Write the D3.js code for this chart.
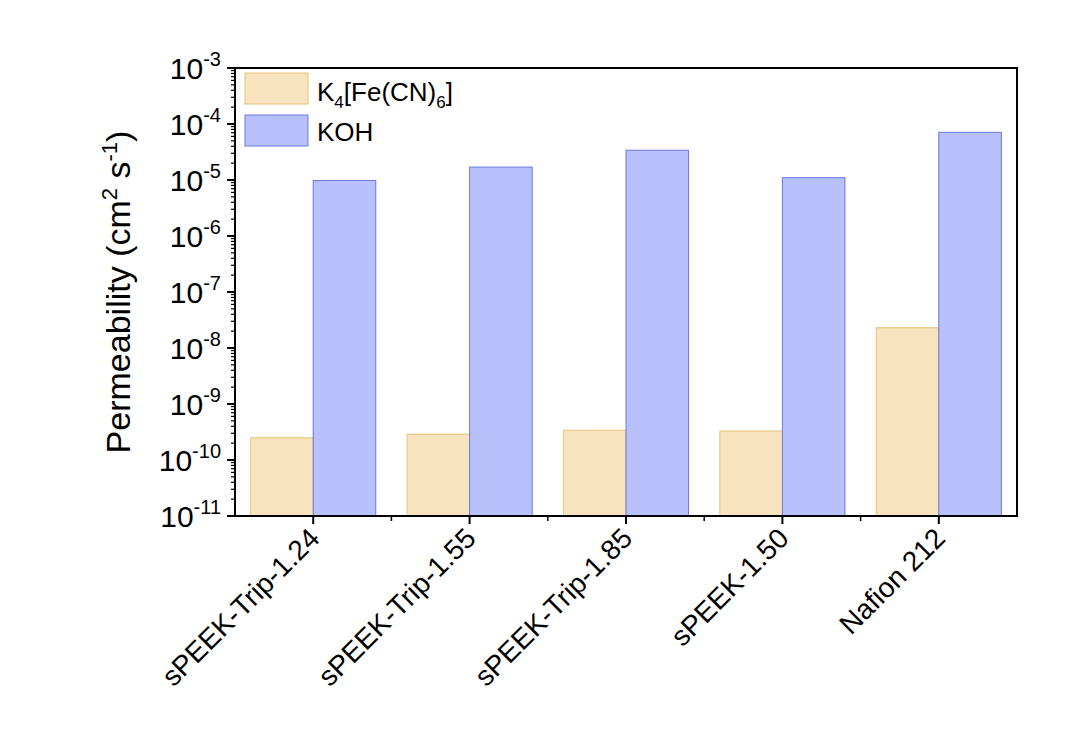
<!DOCTYPE html><html><head><meta charset="utf-8"><script src="https://cdn.jsdelivr.net/npm/d3@7"></script>
<style>body{margin:0;background:#fff}text{font-family:"Liberation Sans",Arial,sans-serif;fill:#000}</style></head><body>
<svg id="c" width="1089" height="731"></svg>
<script>
const categories=["sPEEK-Trip-1.24","sPEEK-Trip-1.55","sPEEK-Trip-1.85","sPEEK-1.50","Nafion 212"];
const k4Values=[2.5e-10,2.9e-10,3.4e-10,3.3e-10,2.3e-8];
const kohValues=[9.8e-6,1.7e-5,3.4e-5,1.1e-5,7.1e-5];
const yExponents=[-11,-10,-9,-8,-7,-6,-5,-4,-3];
const seriesNames=["K4","KOH"];
const colors={K4:{fill:"#f7e4bf",stroke:"#e8c27a"},KOH:{fill:"#b8c1fb",stroke:"#6a78e0"}};
const svg=d3.select("#c");
const L=235,R=1017,T=68,B=516;
const x=d3.scaleBand().domain(categories).range([L,R]).paddingInner(0).paddingOuter(0);
const y=d3.scaleLog().domain([1e-11,1e-3]).range([B,T]);
const bw=x.bandwidth()*0.4;
const g=svg.append("g");
categories.forEach((c,i)=>{
  const cx=x(c)+x.bandwidth()/2;
  [[k4Values[i],"K4",cx-bw],[kohValues[i],"KOH",cx]].forEach(([v,s,x0])=>{
    g.append("rect").attr("x",x0).attr("width",bw).attr("y",y(v)).attr("height",B-y(v))
     .attr("fill",colors[s].fill).attr("stroke",colors[s].stroke).attr("stroke-width",1);
  });
});
svg.append("rect").attr("x",L).attr("y",T).attr("width",R-L).attr("height",B-T).attr("fill","none").attr("stroke","#000").attr("stroke-width",2);
yExponents.forEach(e=>{
  const yy=y(Math.pow(10,e));
  svg.append("line").attr("x1",L-8).attr("x2",L).attr("y1",yy).attr("y2",yy).attr("stroke","#000").attr("stroke-width",2);
  const t=svg.append("text").attr("x",L-14).attr("y",yy+11).attr("text-anchor","end").attr("font-size",30);
  t.append("tspan").text("10");
  t.append("tspan").attr("dy",-13).attr("font-size",20).text(e);
  if(e<-3) for(let m=2;m<10;m++){const ym=y(m*Math.pow(10,e));
    svg.append("line").attr("x1",L-4).attr("x2",L).attr("y1",ym).attr("y2",ym).attr("stroke","#000").attr("stroke-width",1.2);}
});
categories.forEach((c,i)=>{
  const cx=x(c)+x.bandwidth()/2;
  svg.append("line").attr("x1",cx).attr("x2",cx).attr("y1",B).attr("y2",B+8).attr("stroke","#000").attr("stroke-width",2);
  if(i<categories.length-1) svg.append("line").attr("x1",x(c)+x.bandwidth()).attr("x2",x(c)+x.bandwidth()).attr("y1",B).attr("y2",B+5).attr("stroke","#000").attr("stroke-width",1.5);
  svg.append("text").attr("transform",`translate(${cx+8},${B+24}) rotate(-45)`).attr("text-anchor","end").attr("font-size",28).text(c);
});
const yt=svg.append("text").attr("transform","translate(130,292) rotate(-90)").attr("text-anchor","middle").attr("font-size",34);
yt.append("tspan").text("Permeability (cm");
yt.append("tspan").attr("dy",-13).attr("font-size",22).text("2");
yt.append("tspan").attr("dy",13).text(" s");
yt.append("tspan").attr("dy",-13).attr("font-size",22).text("-1");
yt.append("tspan").attr("dy",13).text(")");
[["K4",73],["KOH",115]].forEach(([s,ly])=>{
  svg.append("rect").attr("x",245).attr("y",ly).attr("width",63).attr("height",31).attr("fill",colors[s].fill).attr("stroke",colors[s].stroke);
});
const lt=svg.append("text").attr("x",317).attr("y",101).attr("font-size",26);
lt.append("tspan").text("K");lt.append("tspan").attr("dy",7).attr("font-size",17).text("4");
lt.append("tspan").attr("dy",-7).text("[Fe(CN)");lt.append("tspan").attr("dy",7).attr("font-size",17).text("6");
lt.append("tspan").attr("dy",-7).text("]");
svg.append("text").attr("x",317).attr("y",141).attr("font-size",26).text("KOH");
</script></body></html>
